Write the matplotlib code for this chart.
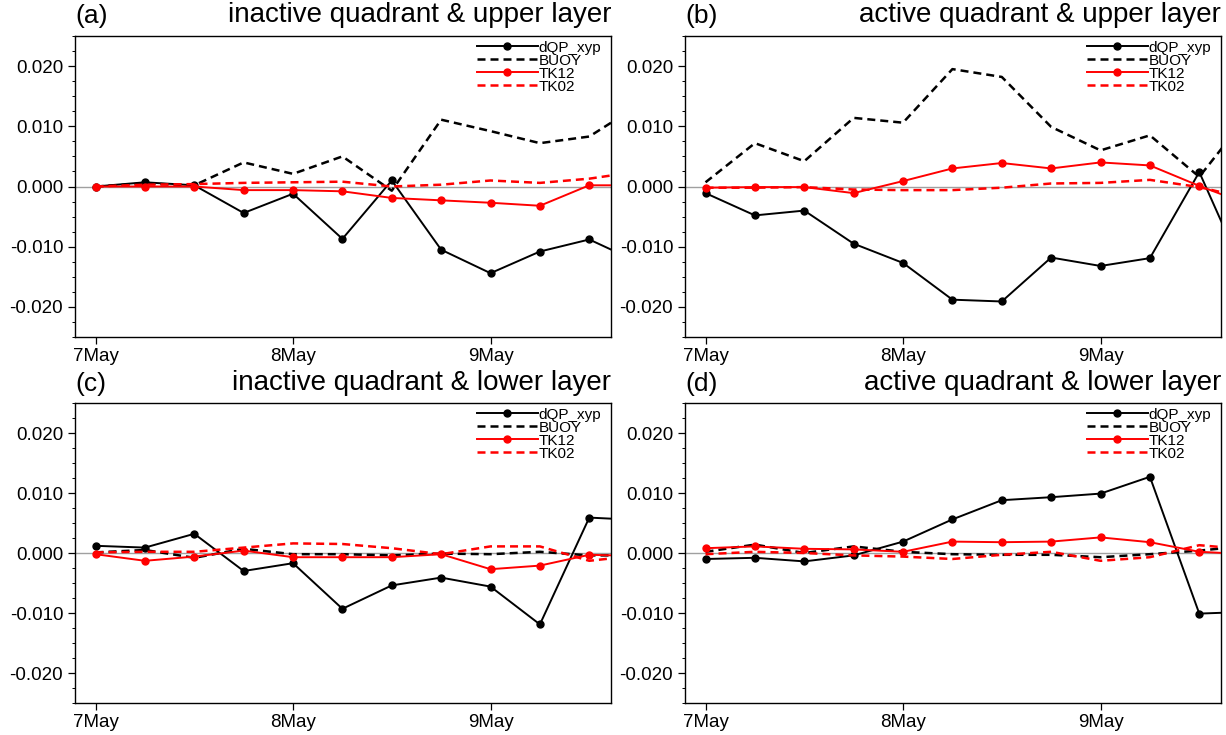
import matplotlib
matplotlib.use("Agg")
import matplotlib.pyplot as plt
from matplotlib.ticker import MultipleLocator, FixedLocator

plt.rcParams['font.family'] = ['Liberation Sans', 'DejaVu Sans']

# time axis: days since 7May 00UTC, 6-hourly
days = [0.0, 0.25, 0.5, 0.75, 1.0, 1.25, 1.5, 1.75, 2.0, 2.25, 2.5, 2.75]
day_ticks = [0, 1, 2]
day_labels = ["7May", "8May", "9May"]

series_names = ["dQP_xyp", "BUOY", "TK12", "TK02"]

# (a) inactive quadrant, upper layer
a_dqp  = [0.0000, 0.0007, 0.0002, -0.0044, -0.0012, -0.0087, 0.0010, -0.0105, -0.0144, -0.0108, -0.0088, -0.0126]
a_buoy = [0.0000, 0.0005, 0.0002, 0.0040, 0.0021, 0.0050, -0.0007, 0.0111, 0.0092, 0.0072, 0.0083, 0.0135]
a_tk12 = [0.0000, 0.0000, 0.0000, -0.0006, -0.0006, -0.0008, -0.0019, -0.0023, -0.0027, -0.0032, 0.0002, 0.0002]
a_tk02 = [0.0000, 0.0003, 0.0004, 0.0006, 0.0007, 0.0008, 0.0000, 0.0003, 0.0010, 0.0006, 0.0013, 0.0025]

# (b) active quadrant, upper layer
b_dqp  = [-0.0011, -0.0048, -0.0040, -0.0095, -0.0127, -0.0188, -0.0191, -0.0118, -0.0132, -0.0119, 0.0024, -0.0160]
b_buoy = [0.0007, 0.0072, 0.0042, 0.0114, 0.0106, 0.0195, 0.0182, 0.0099, 0.0060, 0.0085, 0.0016, 0.0120]
b_tk12 = [-0.0002, -0.0001, -0.0001, -0.0011, 0.0009, 0.0030, 0.0039, 0.0030, 0.0040, 0.0035, 0.0001, -0.0030]
b_tk02 = [-0.0002, -0.0002, -0.0001, -0.0005, -0.0006, -0.0006, -0.0002, 0.0005, 0.0006, 0.0011, -0.0001, -0.0020]

# (c) inactive quadrant, lower layer
c_dqp  = [0.0012, 0.0009, 0.0032, -0.0030, -0.0017, -0.0093, -0.0054, -0.0041, -0.0056, -0.0119, 0.0059, 0.0055]
c_buoy = [0.0001, 0.0005, -0.0008, 0.0007, -0.0002, -0.0002, -0.0004, -0.0001, -0.0002, 0.0002, -0.0004, -0.0004]
c_tk12 = [-0.0002, -0.0013, -0.0006, 0.0004, -0.0007, -0.0007, -0.0007, -0.0002, -0.0027, -0.0021, -0.0003, -0.0005]
c_tk02 = [0.0001, 0.0002, 0.0002, 0.0009, 0.0016, 0.0015, 0.0008, -0.0002, 0.0011, 0.0011, -0.0013, -0.0004]

# (d) active quadrant, lower layer
d_dqp  = [-0.0010, -0.0008, -0.0014, -0.0004, 0.0019, 0.0056, 0.0088, 0.0093, 0.0099, 0.0127, -0.0101, -0.0098]
d_buoy = [0.0002, 0.0014, 0.0000, 0.0011, 0.0002, -0.0002, -0.0003, -0.0003, -0.0007, -0.0002, 0.0004, 0.0012]
d_tk12 = [0.0008, 0.0011, 0.0007, 0.0006, 0.0002, 0.0019, 0.0018, 0.0019, 0.0026, 0.0018, 0.0002, -0.0002]
d_tk02 = [-0.0002, 0.0002, 0.0000, -0.0004, -0.0006, -0.0010, -0.0003, 0.0002, -0.0013, -0.0007, 0.0013, 0.0006]

panels = [
    ("(a)", "inactive quadrant & upper layer", [a_dqp, a_buoy, a_tk12, a_tk02]),
    ("(b)", "active quadrant & upper layer",   [b_dqp, b_buoy, b_tk12, b_tk02]),
    ("(c)", "inactive quadrant & lower layer", [c_dqp, c_buoy, c_tk12, c_tk02]),
    ("(d)", "active quadrant & lower layer",   [d_dqp, d_buoy, d_tk12, d_tk02]),
]

styles = [
    dict(color="black", ls="-", marker="o", ms=5, lw=1.4),
    dict(color="black", ls=(0, (3.2, 2.0)), marker=None, lw=1.8),
    dict(color="red", ls="-", marker="o", ms=5, lw=1.4),
    dict(color="red", ls=(0, (3.2, 2.0)), marker=None, lw=1.8),
]

W, H = 1226, 735
fig = plt.figure(figsize=(W / 100, H / 100), dpi=100)

# axes boxes in pixels: left, top, right, bottom
boxes = [(75, 36, 611, 337), (685, 36, 1221, 337),
         (75, 403, 611, 703), (685, 403, 1221, 703)]

for (tag, title, data), (l, t, r, b) in zip(panels, boxes):
    ax = fig.add_axes([l / W, (H - b) / H, (r - l) / W, (b - t) / H])
    ax.axhline(0, color="#a0a0a0", lw=1.0, zorder=1)
    for name, vals, st in zip(series_names, data, styles):
        ax.plot(days, vals, label=name, zorder=3, **st)
    ax.set_xlim(-0.104, 2.61)
    ax.set_ylim(-0.025, 0.025)
    ax.yaxis.set_minor_locator(MultipleLocator(0.0025))
    ax.set_yticks([-0.02, -0.01, 0.0, 0.01, 0.02])
    ax.set_yticklabels(["-0.020", "-0.010", "0.000", "0.010", "0.020"])
    ax.xaxis.set_major_locator(FixedLocator(day_ticks))
    ax.set_xticklabels(day_labels)
    ax.tick_params(axis="both", which="major", direction="out", length=5,
                   width=0.9, labelsize=13.5, top=False, right=False)
    ax.tick_params(axis="y", which="minor", direction="out", length=2.5,
                   width=0.7, right=False)
    ax.tick_params(axis="x", which="minor", bottom=False, top=False)
    ax.tick_params(axis="x", pad=3)
    for sp in ax.spines.values():
        sp.set_linewidth(1.0)
    ax.text(0.0, 1.025, tag, transform=ax.transAxes, ha="left", va="bottom",
            fontsize=19)
    ax.text(1.0, 1.025, title, transform=ax.transAxes, ha="right", va="bottom",
            fontsize=20)
    ax.legend(loc="upper right", frameon=False, fontsize=11,
              handlelength=4.0, handletextpad=0.05, labelspacing=-0.06,
              borderaxespad=0.0, borderpad=0.1, bbox_to_anchor=(0.985, 0.99))

fig.savefig("out.png", dpi=100)
